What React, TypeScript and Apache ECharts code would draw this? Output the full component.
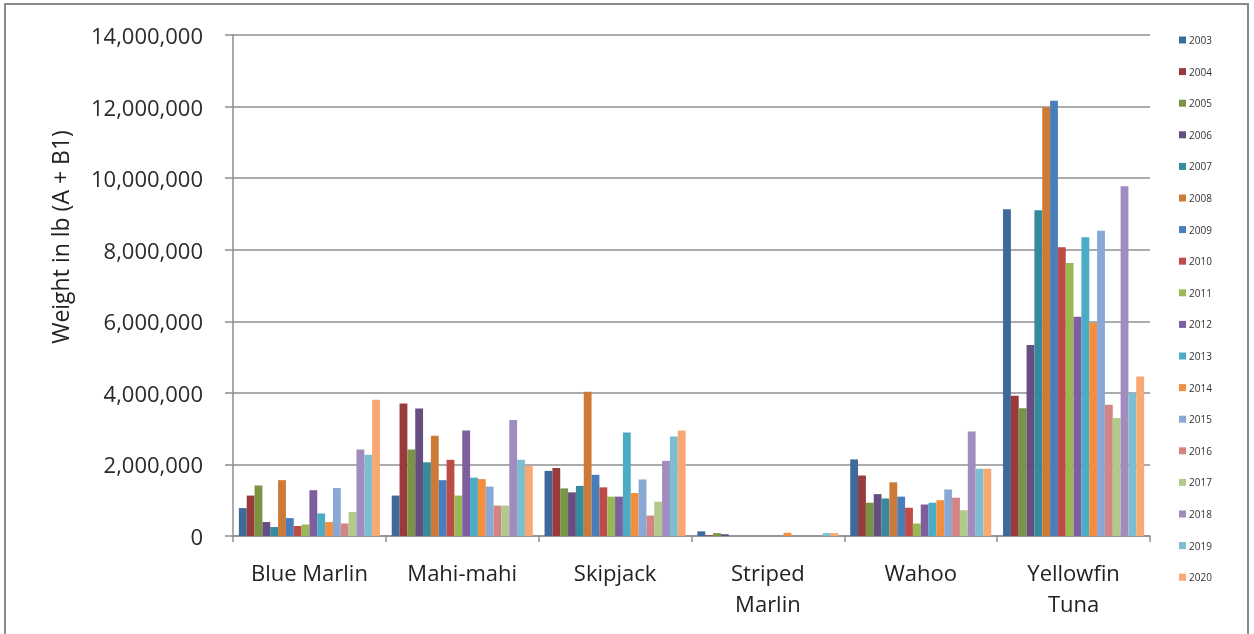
import React, { useEffect, useRef } from "react";
import * as echarts from "echarts";

const categories = ["Blue Marlin", "Mahi-mahi", "Skipjack", "Striped\nMarlin", "Wahoo", "Yellowfin\nTuna"];
const years = ["2003", "2004", "2005", "2006", "2007", "2008", "2009", "2010", "2011", "2012", "2013", "2014", "2015", "2016", "2017", "2018", "2019", "2020"];
const yTicks = [0, 2000000, 4000000, 6000000, 8000000, 10000000, 12000000, 14000000];

const v2003 = [780000, 1130000, 1820000, 130000, 2140000, 9130000];
const v2004 = [1130000, 3700000, 1900000, 20000, 1690000, 3920000];
const v2005 = [1410000, 2420000, 1330000, 80000, 930000, 3570000];
const v2006 = [390000, 3560000, 1220000, 50000, 1170000, 5340000];
const v2007 = [250000, 2060000, 1400000, 0, 1050000, 9100000];
const v2008 = [1560000, 2800000, 4030000, 0, 1500000, 11980000];
const v2009 = [500000, 1560000, 1710000, 0, 1100000, 12160000];
const v2010 = [280000, 2130000, 1360000, 0, 790000, 8070000];
const v2011 = [320000, 1130000, 1100000, 0, 350000, 7630000];
const v2012 = [1280000, 2950000, 1100000, 0, 880000, 6130000];
const v2013 = [630000, 1630000, 2890000, 0, 930000, 8350000];
const v2014 = [390000, 1590000, 1200000, 90000, 1000000, 5960000];
const v2015 = [1340000, 1380000, 1580000, 0, 1300000, 8530000];
const v2016 = [350000, 850000, 570000, 0, 1070000, 3670000];
const v2017 = [670000, 850000, 960000, 0, 720000, 3300000];
const v2018 = [2420000, 3240000, 2100000, 0, 2920000, 9770000];
const v2019 = [2270000, 2130000, 2780000, 80000, 1880000, 4000000];
const v2020 = [3810000, 1960000, 2950000, 80000, 1880000, 4460000];

const seriesValues = [v2003, v2004, v2005, v2006, v2007, v2008, v2009, v2010, v2011, v2012, v2013, v2014, v2015, v2016, v2017, v2018, v2019, v2020];

const colors = [
  "#3D6A9A", "#9A3B3B", "#7A9445", "#664E80", "#358A9E", "#CC7A36",
  "#4A7EBB", "#BE4B48", "#98B954", "#7D5FA0", "#4BACC6", "#F38E3E",
  "#8AA8D5", "#D38583", "#B1CA8C", "#A08CBE", "#7DBCD1", "#F9A874",
];

export default function App() {
  const ref = useRef<HTMLDivElement>(null);
  useEffect(() => {
    if (!ref.current) return;
    const chart = echarts.init(ref.current, undefined, { renderer: "svg" });
    const font = "'Open Sans', 'Noto Sans', sans-serif";
    chart.setOption({
      animation: false,
      color: colors,
      textStyle: { fontFamily: font },
      grid: { left: 233, right: 104, top: 35, bottom: 98, containLabel: false },
      legend: {
        orient: "vertical",
        left: 1174,
        top: 29,
        itemWidth: 7,
        itemHeight: 7,
        itemGap: 19.6,
        icon: "rect",
        data: years,
        textStyle: { fontSize: 10, color: "#333", lineHeight: 12, padding: [0, 0, 0, -2] },
      },
      xAxis: {
        type: "category",
        data: categories,
        axisLine: { lineStyle: { color: "#8f8f8f", width: 1.5 } },
        axisTick: { show: true, length: 6, alignWithLabel: false, lineStyle: { color: "#8f8f8f", width: 1.5 } },
        axisLabel: { fontSize: 22, color: "#222", margin: 20, lineHeight: 31, fontFamily: font },
      },
      yAxis: {
        type: "value",
        min: yTicks[0],
        max: yTicks[yTicks.length - 1],
        interval: 2000000,
        axisLine: { show: true, lineStyle: { color: "#8f8f8f", width: 1.5 } },
        axisTick: { show: true, length: 8, lineStyle: { color: "#8f8f8f", width: 1.5 } },
        splitLine: { lineStyle: { color: "#8f8f8f", width: 1.5 } },
        axisLabel: {
          fontSize: 22,
          color: "#2a2a2a",
          margin: 30,
          fontFamily: font,
          formatter: (v: number) => v.toLocaleString("en-US"),
        },
      },
      graphic: [
        {
          type: "rect",
          shape: { x: 5, y: 4, width: 1243, height: 640 },
          style: { fill: "none", stroke: "#8a8a8a", lineWidth: 2 },
          silent: true,
        },
        {
          type: "text",
          x: 60,
          y: 237,
          rotation: Math.PI / 2,
          style: {
            text: "Weight in lb (A + B1)",
            fontSize: 23,
            fill: "#222",
            fontFamily: font,
            align: "center",
            verticalAlign: "middle",
          },
        },
      ],
      series: years.map((y, i) => ({
        name: y,
        type: "bar",
        data: seriesValues[i],
        barGap: "0%",
        barCategoryGap: "7.7%",
      })),
    });
    return () => chart.dispose();
  }, []);
  return <div ref={ref} style={{ position: "fixed", left: 0, top: 0, width: 1254, height: 634 }} />;
}
